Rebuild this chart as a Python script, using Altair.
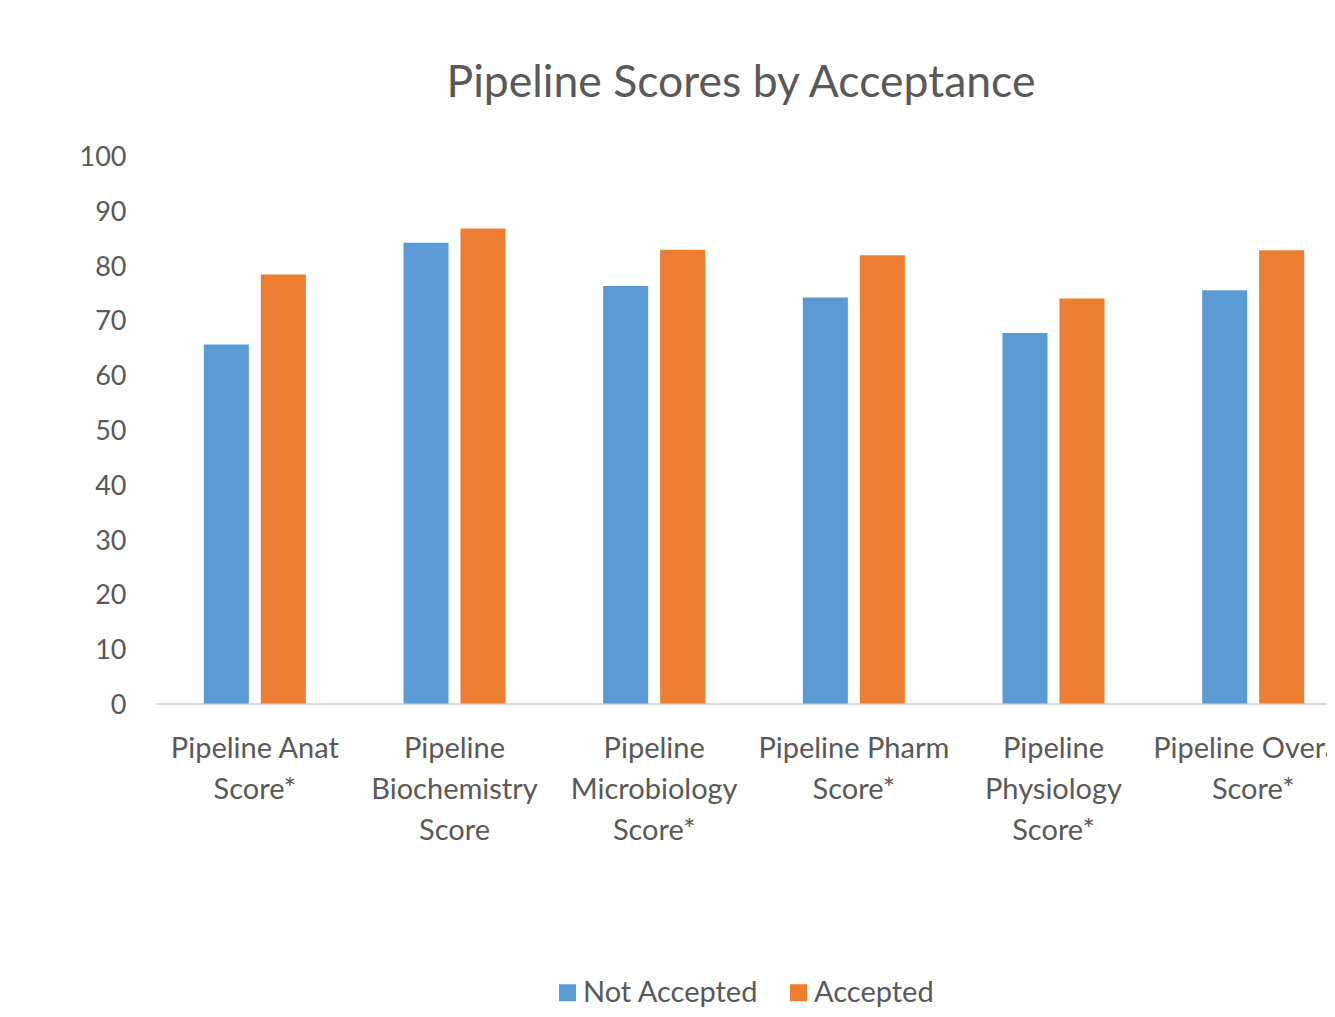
import altair as alt
import pandas as pd

categories = [
    "Pipeline Anat\nScore*",
    "Pipeline\nBiochemistry\nScore",
    "Pipeline\nMicrobiology\nScore*",
    "Pipeline Pharm\nScore*",
    "Pipeline\nPhysiology\nScore*",
    "Pipeline Overall\nScore*",
]
not_accepted = [65.5, 84.1, 76.2, 74.1, 67.6, 75.4]
accepted = [78.3, 86.7, 82.8, 81.8, 73.9, 82.7]
series = ["Not Accepted", "Accepted"]
colors = ["#5B9BD5", "#ED7D31"]
y_ticks = list(range(0, 101, 10))

rows = []
for c, a, b in zip(categories, not_accepted, accepted):
    rows.append({"category": c, "group": series[0], "value": a})
    rows.append({"category": c, "group": series[1], "value": b})
df = pd.DataFrame(rows)

FONT = "Lato"
TXT = "#595959"

chart = alt.Chart(df).mark_bar().encode(
    x=alt.X(
        "category:N",
        sort=categories,
        scale=alt.Scale(range=[0, 1198], paddingInner=0.489, paddingOuter=0.2445),
        axis=alt.Axis(
            title=None, labelAngle=0,
            labelExpr="split(datum.label, '\\n')",
            labelFont=FONT, labelFontSize=29, labelColor=TXT,
            labelLineHeight=41, labelBaseline="alphabetic", labelPadding=54,
            labelLimit=400, labelOverlap=False,
            ticks=False, tickSize=0,
            domainColor="#D9D9D9", domainWidth=2,
        ),
    ),
    xOffset=alt.XOffset("group:N", sort=series,
                        scale=alt.Scale(paddingInner=0.21, paddingOuter=0)),
    y=alt.Y(
        "value:Q",
        scale=alt.Scale(domain=[0, 100]),
        axis=alt.Axis(
            values=y_ticks, title=None, grid=False, domain=False, ticks=False,
            tickSize=0, labelPadding=29, labelFont=FONT, labelFontSize=27,
            labelColor=TXT, labelOffset=2,
        ),
    ),
    color=alt.Color(
        "group:N", sort=series,
        scale=alt.Scale(domain=series, range=colors),
        legend=alt.Legend(
            title=None, orient="none", legendX=398, legendY=822.5,
            direction="horizontal", symbolType="square", symbolSize=289,
            symbolStrokeWidth=0, labelFont=FONT, labelFontSize=29,
            labelColor=TXT, labelOffset=1, columnPadding=25, padding=0,
            labelLimit=400,
        ),
    ),
).properties(
    width=1172,
    height=548,
    title=alt.TitleParams(
        text="Pipeline Scores by Acceptance", font=FONT, fontSize=44.5,
        fontWeight="normal", color=TXT, anchor="middle",
        baseline="alphabetic", offset=2, frame="group",
    ),
    autosize=alt.AutoSizeParams(type="none"),
    padding={"left": 147, "top": 147.5, "right": 0, "bottom": 305.5},
    background="white",
).configure_view(stroke=None)

chart.save("out.html", embed_options={"renderer": "svg", "actions": False})
